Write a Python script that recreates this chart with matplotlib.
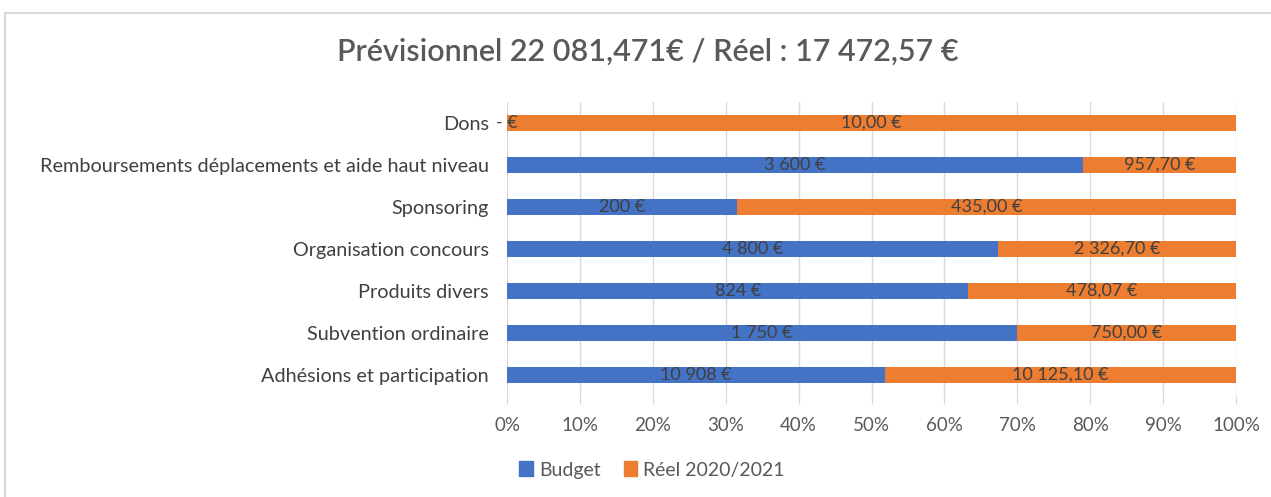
import matplotlib
matplotlib.use("Agg")
import matplotlib.pyplot as plt
from matplotlib.patches import Rectangle, Patch
import numpy as np

plt.rcParams['font.family'] = ['Lato', 'DejaVu Sans']

categories = ["Adhésions et participation", "Subvention ordinaire", "Produits divers",
              "Organisation concours", "Sponsoring",
              "Remboursements déplacements et aide haut niveau", "Dons"]
budget = [10908, 1750, 824, 4800, 200, 3600, 0]
reel = [10125.10, 750.00, 478.07, 2326.70, 435.00, 957.70, 10.00]
xticklabels = ["0%", "10%", "20%", "30%", "40%", "50%", "60%", "70%", "80%", "90%", "100%"]
title = "Prévisionnel 22 081,471€ / Réel : 17 472,57 €"

BLUE = "#4472C4"
ORANGE = "#ED7D31"
TXT = "#404040"

def fmt_budget(v):
    if v == 0:
        return "- €"
    return f"{v:,.0f}".replace(",", " ") + " €"

def fmt_reel(v):
    s = f"{v:,.2f}"
    s = s.replace(",", " ").replace(".", ",")
    return s + " €"

fig = plt.figure(figsize=(12.71, 4.97), dpi=100)
ax = fig.add_axes([507/1271, 1-396/497, (1236-507)/1271, 294/497])

b = np.array(budget, dtype=float)
r = np.array(reel, dtype=float)
tot = b + r
bp = b / tot
rp = r / tot
y = np.arange(len(categories))
h = 0.4

ax.barh(y, bp, height=h, color=BLUE, zorder=3)
ax.barh(y, rp, left=bp, height=h, color=ORANGE, zorder=3)

for i in range(len(categories)):
    ax.text(bp[i] / 2, y[i], fmt_budget(budget[i]), ha="center", va="center",
            fontsize=13, color=TXT, zorder=4)
    ax.text(bp[i] + rp[i] / 2, y[i], fmt_reel(reel[i]), ha="center", va="center",
            fontsize=13, color=TXT, zorder=4)

ax.set_xlim(0, 1)
ax.set_ylim(-0.5, len(categories) - 0.5)
ax.set_xticks(np.linspace(0, 1, 11))
ax.set_xticklabels(xticklabels, fontsize=13.5, color="#595959")
ax.set_yticks(y)
ax.set_yticklabels(categories, fontsize=14.3, color="#404040")
ax.tick_params(axis="y", length=0, pad=13)
ax.tick_params(axis="x", length=6, color="#d9d9d9", pad=9)
ax.grid(axis="x", color="#d9d9d9", linewidth=1, zorder=0)
for s in ax.spines.values():
    s.set_visible(False)

fig.text(648/1271, 1-52/497, title, ha="center", va="center", fontsize=22,
         fontweight="semibold", color="#595959")

handles = [Patch(color=BLUE, label="Budget"), Patch(color=ORANGE, label="Réel 2020/2021")]
leg = fig.legend(handles=handles, loc="center", bbox_to_anchor=(652/1271, 1-470/497), ncol=2,
                 frameon=False, fontsize=14, handlelength=0.7, handleheight=0.8,
                 handletextpad=0.3, columnspacing=1.2)
for t in leg.get_texts():
    t.set_color("#595959")

fig.patches.append(Rectangle((5/1271, -0.1), 1.2, 1.1 - 13/497, transform=fig.transFigure,
                             fill=False, edgecolor="#d9d9d9", linewidth=1.5))

fig.savefig("out.png", dpi=100)
